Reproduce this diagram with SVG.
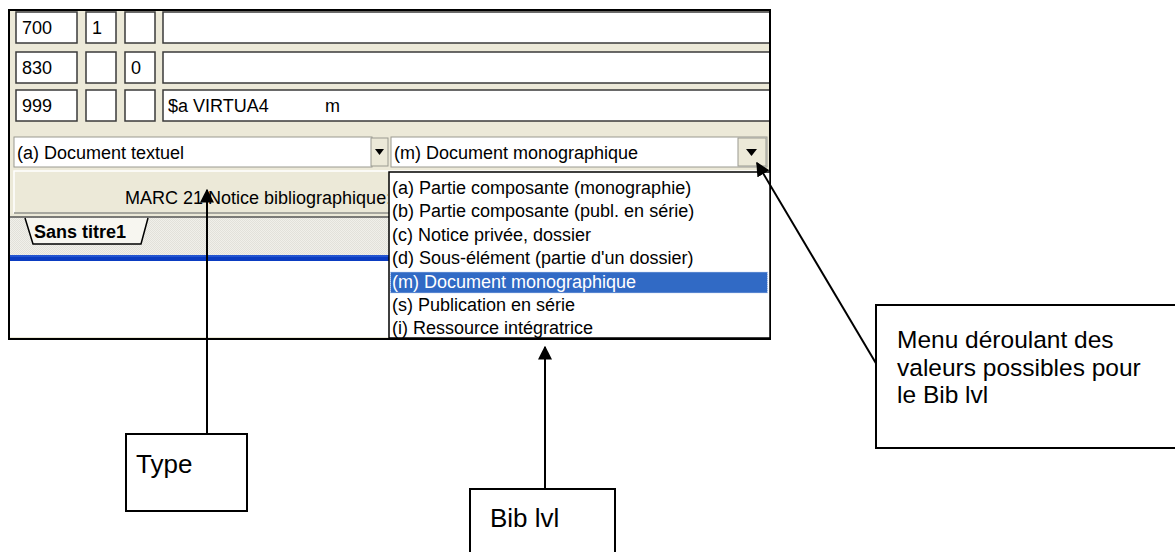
<svg xmlns="http://www.w3.org/2000/svg" width="1175" height="552" viewBox="0 0 1175 552">
<style>
.ui{font-family:"Liberation Sans",Arial,sans-serif;font-size:18px;fill:#000}
.ann{font-family:"Liberation Sans",Arial,sans-serif;font-size:26px;fill:#000}
.ann2{font-family:"Liberation Sans",Arial,sans-serif;font-size:24.5px;fill:#000}
.cell{fill:#fff;stroke:#3a3a3a;stroke-width:1.5}
.btn{fill:#ECE9D8;stroke:#9a9a90;stroke-width:1}
.box{fill:#fff;stroke:#000;stroke-width:2}
.conn{stroke:#000;stroke-width:2;fill:none}
</style>
<defs>
<marker id="ah" viewBox="0 0 10 10" refX="9" refY="5" markerWidth="7" markerHeight="7" orient="auto" markerUnits="strokeWidth">
<path d="M0,0 L10,5 L0,10 z" fill="#000"/>
</marker>
<pattern id="chk" width="2" height="2" patternUnits="userSpaceOnUse">
<rect width="2" height="2" fill="#F1F0EA"/>
<rect width="1" height="1" fill="#E2E1DA"/>
<rect x="1" y="1" width="1" height="1" fill="#E2E1DA"/>
</pattern>
<clipPath id="marcclip"><rect x="14" y="171" width="374" height="42"/></clipPath>
</defs>
<rect width="1175" height="552" fill="#fff"/>

<g id="window">
<rect x="9" y="10" width="761" height="329" fill="#ECE9D8"/>
<g id="row700">
<rect class="cell" x="16" y="12" width="61" height="31"/>
<rect class="cell" x="86" y="12" width="30" height="31"/>
<rect class="cell" x="125" y="12" width="30" height="31"/>
<rect class="cell" x="163" y="12" width="607" height="31"/>
<text class="ui" x="22" y="34">700</text>
<text class="ui" x="92" y="34">1</text>
</g>
<g id="row830">
<rect class="cell" x="16" y="52" width="61" height="31"/>
<rect class="cell" x="86" y="52" width="30" height="31"/>
<rect class="cell" x="125" y="52" width="30" height="31"/>
<rect class="cell" x="163" y="52" width="607" height="31"/>
<text class="ui" x="22" y="74">830</text>
<text class="ui" x="131" y="74">0</text>
</g>
<g id="row999">
<rect class="cell" x="16" y="90" width="61" height="31"/>
<rect class="cell" x="86" y="90" width="30" height="31"/>
<rect class="cell" x="125" y="90" width="30" height="31"/>
<rect class="cell" x="163" y="90" width="607" height="31"/>
<text class="ui" x="22" y="112">999</text>
<text class="ui" x="168" y="112">$a VIRTUA4</text>
<text class="ui" x="325" y="112">m</text>
</g>
<g id="combo-type">
<rect x="14" y="137" width="358" height="30" fill="#fff" stroke="#9a9a90" stroke-width="1"/>
<rect class="btn" x="371" y="138" width="17" height="28"/>
<path d="M375,149 L384,149 L379.5,155 z" fill="#000"/>
<text class="ui" x="17" y="159">(a) Document textuel</text>
</g>
<g id="combo-biblvl">
<rect x="391" y="137" width="376" height="30" fill="#fff" stroke="#9a9a90" stroke-width="1"/>
<rect class="btn" x="738" y="138" width="28" height="28"/>
<path d="M746,149 L757,149 L751.5,156 z" fill="#000"/>
<text class="ui" x="394" y="159">(m) Document monographique</text>
</g>
<g id="marc-bar">
<rect x="14" y="171" width="755" height="42" fill="#ECE9D8" stroke="#fff" stroke-width="1.5"/>
<line x1="14" y1="213" x2="769" y2="213" stroke="#8a8a80" stroke-width="1.5"/>
<text class="ui" x="125" y="204" clip-path="url(#marcclip)">MARC 21 Notice bibliographique:</text>
</g>
<rect x="10" y="217" width="759" height="38" fill="url(#chk)"/>
<line x1="10" y1="217" x2="769" y2="217" stroke="#555" stroke-width="1.5"/>
<g id="tab">
<path d="M25,218 L33,244 L141,244 L148,218" fill="#F7F6F0" stroke="#000" stroke-width="1.5"/>
<text class="ui" x="34" y="238" font-weight="bold">Sans titre1</text>
</g>
<rect x="10" y="255" width="759" height="6" fill="#0B3CC1"/>
<line x1="10" y1="256" x2="769" y2="256" stroke="#3c6ee0" stroke-width="1"/>
<rect x="10" y="261" width="759" height="76" fill="#fff"/>
<rect x="9" y="10" width="761" height="329" fill="none" stroke="#000" stroke-width="2"/>
</g>

<g id="dropdown-list">
<rect x="389" y="172" width="381" height="166" fill="#fff" stroke="#000" stroke-width="1.5"/>
<rect x="390.5" y="272" width="377" height="21" fill="#316AC5" stroke="#c8d6f0" stroke-width="1" stroke-dasharray="1,1"/>
<text class="ui" x="392" y="194">(a) Partie composante (monographie)</text>
<text class="ui" x="392" y="217">(b) Partie composante (publ. en série)</text>
<text class="ui" x="392" y="241">(c) Notice privée, dossier</text>
<text class="ui" x="392" y="264">(d) Sous-élément (partie d'un dossier)</text>
<text class="ui" x="392" y="288" style="fill:#fff">(m) Document monographique</text>
<text class="ui" x="392" y="311">(s) Publication en série</text>
<text class="ui" x="392" y="334">(i) Ressource intégratrice</text>
</g>

<g id="connectors">
<line class="conn" x1="207" y1="434" x2="207" y2="190" marker-end="url(#ah)"/>
<line class="conn" x1="545" y1="489" x2="545" y2="347" marker-end="url(#ah)"/>
<line class="conn" x1="877" y1="365" x2="757" y2="163" marker-end="url(#ah)"/>
</g>

<g id="node-type">
<rect class="box" x="126" y="434" width="121" height="77"/>
<text class="ann" x="136" y="473">Type</text>
</g>
<g id="node-biblvl">
<rect class="box" x="470" y="489" width="145" height="70"/>
<text class="ann" x="490" y="527">Bib lvl</text>
</g>
<g id="node-menu">
<rect class="box" x="876" y="305" width="306" height="143"/>
<text class="ann2" x="897" y="348">Menu déroulant des</text>
<text class="ann2" x="897" y="375.5">valeurs possibles pour</text>
<text class="ann2" x="897" y="403">le Bib lvl</text>
</g>
</svg>
